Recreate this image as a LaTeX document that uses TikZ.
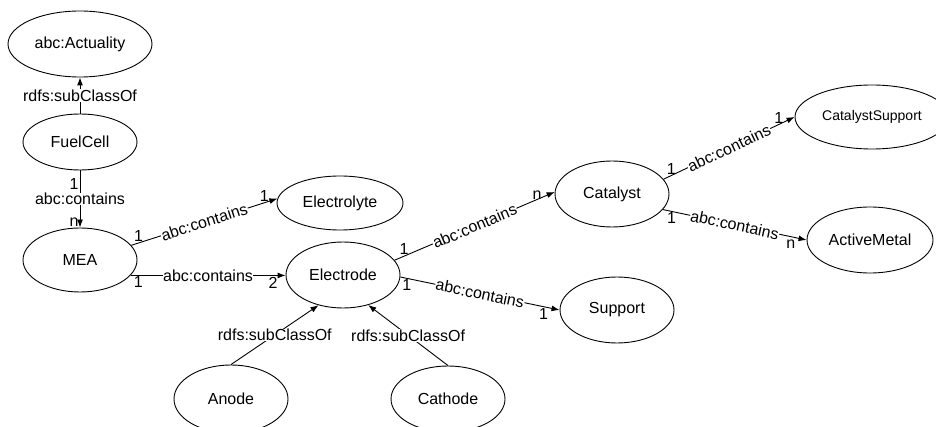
\documentclass[tikz,border=0pt]{standalone}
\usepackage{fontspec}
\setmainfont{Liberation Sans}
\usetikzlibrary{shapes.geometric,arrows.meta}
\begin{document}
\begin{tikzpicture}[x=1pt,y=-1pt,
  txt/.style={font=\fontsize{16}{19}\selectfont},
  cls/.style={ellipse,draw,line width=0.9pt,inner sep=0pt,txt},
  conn/.style={line width=0.9pt,-{Latex[length=8pt,width=6pt]}},
  lbl/.style={fill=white,inner sep=0.5pt,txt},
  mul/.style={inner sep=1pt,txt}]
\useasboundingbox (0,0) rectangle (936,427);
\clip (0,0) rectangle (936,427);
% classes
\node[cls,minimum width=144pt,minimum height=66pt] (act) at (80,44) {abc:Actuality};
\node[cls,minimum width=114pt,minimum height=56pt] (fc)  at (80,142) {FuelCell};
\node[cls,minimum width=114pt,minimum height=64pt] (mea) at (80,260) {MEA};
\node[cls,minimum width=126pt,minimum height=54pt] (ely) at (340,203) {Electrolyte};
\node[cls,minimum width=114pt,minimum height=66pt] (ele) at (343,275) {Electrode};
\node[cls,minimum width=114pt,minimum height=66pt] (cat) at (612,194) {Catalyst};
\node[cls,minimum width=114pt,minimum height=66pt] (sup) at (617,310) {Support};
\node[cls,minimum width=154pt,minimum height=64pt,font=\fontsize{14}{17}\selectfont] (cs) at (872,117) {CatalystSupport};
\node[cls,minimum width=126pt,minimum height=66pt] (am)  at (870,240) {ActiveMetal};
\node[cls,minimum width=114pt,minimum height=68pt] (an)  at (231,399) {Anode};
\node[cls,minimum width=114pt,minimum height=66pt] (ca)  at (448,399) {Cathode};
% connectors
\draw[conn] (fc.north) -- node[lbl] {rdfs:subClassOf} (act.south);
\draw[conn] (fc.south) -- node[lbl] {abc:contains}
  node[mul,pos=0.24,left] {1} node[mul,pos=0.9,left] {n} (mea.north);
\draw[conn] (mea.16) -- node[lbl,sloped] {abc:contains}
  node[mul,pos=0.05,above] {1} node[mul,pos=0.91,above] {1} (ely.176);
\draw[conn] (mea.-17) -- node[lbl] {abc:contains}
  node[mul,pos=0.05,below] {1} node[mul,pos=0.92,below] {2} (ele.west |- mea.-17);
\draw[conn] (ele.16) -- node[lbl,sloped] {abc:contains}
  node[mul,pos=0.06,above] {1} node[mul,pos=0.89,above,inner sep=0pt] {n} (cat.178);
\draw[conn] (ele.-2) -- node[lbl,sloped] {abc:contains}
  node[mul,pos=0.04,below] {1} node[mul,pos=0.9,below] {1} (sup.180);
\draw[conn] (cat.16) -- node[lbl,sloped] {abc:contains}
  node[mul,pos=0.06,above] {1} node[mul,pos=0.88,above] {1} (cs.180);
\draw[conn] (cat.-17) -- node[lbl,sloped] {abc:contains}
  node[mul,pos=0.06,below] {1} node[mul,pos=0.89,below=2pt] {n} (am.180);
\draw[conn] (an.north) -- node[lbl] {rdfs:subClassOf} (ele.231);
\draw[conn] (ca.north) -- node[lbl] {rdfs:subClassOf} (ele.310);
\end{tikzpicture}
\end{document}
